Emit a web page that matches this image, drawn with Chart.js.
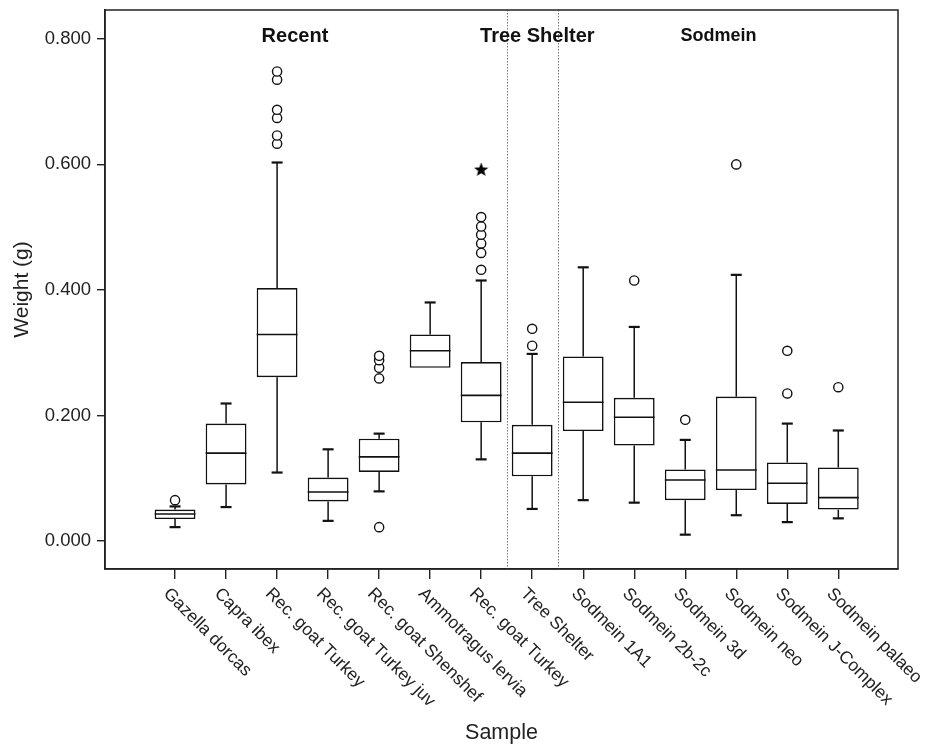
<!DOCTYPE html>
<html>
<head>
<meta charset="utf-8">
<script src="https://cdn.jsdelivr.net/npm/chart.js@4"></script>
<style>
  html, body { margin: 0; padding: 0; background: #fff; }
</style>
</head>
<body>
<canvas id="boxChart" width="925" height="746"></canvas>
<script>
const samples = ['Gazella dorcas', 'Capra ibex', 'Rec. goat Turkey', 'Rec. goat Turkey juv',
  'Rec. goat Shenshef', 'Ammotragus lervia', 'Rec. goat Turkey', 'Tree Shelter',
  'Sodmein 1A1', 'Sodmein 2b-2c', 'Sodmein 3d', 'Sodmein neo', 'Sodmein J-Complex', 'Sodmein palaeo'];

const lowerWhisker = [0.022, 0.054, 0.109, 0.032, 0.079, 0.276, 0.130, 0.051, 0.065, 0.061, 0.010, 0.041, 0.030, 0.036];
const q1           = [0.035, 0.090, 0.261, 0.063, 0.110, 0.276, 0.189, 0.103, 0.175, 0.152, 0.065, 0.081, 0.059, 0.050];
const median       = [0.043, 0.140, 0.329, 0.078, 0.134, 0.303, 0.232, 0.140, 0.221, 0.197, 0.097, 0.113, 0.092, 0.069];
const q3           = [0.050, 0.187, 0.403, 0.101, 0.163, 0.329, 0.285, 0.185, 0.294, 0.228, 0.114, 0.230, 0.125, 0.117];
const upperWhisker = [0.055, 0.219, 0.603, 0.146, 0.171, 0.380, 0.415, 0.298, 0.436, 0.341, 0.161, 0.424, 0.187, 0.176];

const outliers = [
  [0.065], [], [0.633, 0.646, 0.674, 0.687, 0.735, 0.748], [], [0.022, 0.259, 0.276, 0.288, 0.295], [],
  [0.432, 0.459, 0.474, 0.488, 0.501, 0.516], [0.311, 0.338], [], [0.415], [0.193], [0.600], [0.235, 0.303], [0.245]
];
const extremes = [[], [], [], [], [], [], [0.592], [], [], [], [], [], [], []];

const groups = ['Recent', 'Tree Shelter', 'Sodmein'];
const yTickValues = [0, 0.2, 0.4, 0.6, 0.8];

// layout bits (index units on the x scale)
const groupLabelX = [2.35, 7.1, 10.65];
const groupLabelSize = [20, 20, 18];
const separators = [6.5, 7.5];

const FONT = '"Liberation Sans", Arial, Helvetica, sans-serif';

function makeStar(size) {
  const c = document.createElement('canvas');
  c.width = size; c.height = size;
  const g = c.getContext('2d');
  const R = size / 2, r = R * 0.42;
  g.beginPath();
  for (let k = 0; k < 10; k++) {
    const rad = k % 2 ? r : R;
    const a = -Math.PI / 2 + k * Math.PI / 5;
    g.lineTo(R + rad * Math.cos(a), R + 0.5 + rad * Math.sin(a));
  }
  g.closePath();
  g.fillStyle = '#000';
  g.fill();
  return c;
}

function line(ctx, x0, y0, x1, y1) {
  ctx.beginPath();
  ctx.moveTo(x0, y0);
  ctx.lineTo(x1, y1);
  ctx.stroke();
}

const boxParts = {
  id: 'boxParts',
  beforeDatasetsDraw(chart) {
    const {ctx, chartArea, scales: {x}} = chart;
    ctx.save();
    ctx.strokeStyle = '#777';
    ctx.lineWidth = 1;
    ctx.setLineDash([1.5, 1.5]);
    separators.forEach(s => {
      const px = Math.round(x.getPixelForValue(s)) + 0.5;
      line(ctx, px, chartArea.top, px, chartArea.bottom);
    });
    ctx.restore();
  },
  afterDatasetsDraw(chart) {
    const {ctx, scales: {x, y}} = chart;
    const bars = chart.getDatasetMeta(0).data;
    ctx.save();
    ctx.strokeStyle = '#111';
    samples.forEach((s, i) => {
      const cx = x.getPixelForValue(i);
      const half = bars[i].width / 2;
      const my = y.getPixelForValue(median[i]);
      ctx.lineWidth = 1.6;
      line(ctx, cx - half, my, cx + half, my);
      [[q3[i], upperWhisker[i]], [q1[i], lowerWhisker[i]]].forEach(([from, to]) => {
        if (from === to) return;
        const y0 = y.getPixelForValue(from), y1 = y.getPixelForValue(to);
        ctx.lineWidth = 1.5;
        line(ctx, cx, y0, cx, y1);
        ctx.lineWidth = 2.2;
        line(ctx, cx - 5.5, y1, cx + 5.5, y1);
      });
    });
    ctx.restore();
  },
  afterDraw(chart) {
    const {ctx, chartArea, scales: {x}} = chart;
    ctx.save();
    // frame
    ctx.strokeStyle = '#222';
    ctx.lineWidth = 1.5;
    ctx.strokeRect(chartArea.left, chartArea.top, chartArea.right - chartArea.left, chartArea.bottom - chartArea.top);

    // rotated sample labels
    ctx.fillStyle = '#222';
    ctx.font = '17.5px ' + FONT;
    ctx.textAlign = 'left';
    ctx.textBaseline = 'middle';
    samples.forEach((s, i) => {
      ctx.save();
      ctx.translate(x.getPixelForValue(i) - 9, chartArea.bottom + 22);
      ctx.rotate(Math.PI / 4);
      ctx.fillText(s, 0, 0);
      ctx.restore();
    });

    // group headers
    ctx.fillStyle = '#111';
    ctx.textAlign = 'center';
    groups.forEach((g, k) => {
      ctx.font = 'bold ' + groupLabelSize[k] + 'px ' + FONT;
      ctx.fillText(g, x.getPixelForValue(groupLabelX[k]), chartArea.top + 26);
    });
    ctx.restore();
  }
};

const outlierPoints = [];
outliers.forEach((vals, i) => vals.forEach(v => outlierPoints.push({x: i, y: v})));
const extremePoints = [];
extremes.forEach((vals, i) => vals.forEach(v => extremePoints.push({x: i, y: v})));

new Chart(document.getElementById('boxChart').getContext('2d'), {
  type: 'bar',
  data: {
    datasets: [
      {
        label: 'IQR',
        data: samples.map((s, i) => ({x: i, y: [q1[i], q3[i]]})),
        backgroundColor: '#fff',
        borderColor: '#111',
        borderWidth: 1.6,
        borderSkipped: false,
        categoryPercentage: 0.8,
        barPercentage: 1
      },
      {
        type: 'scatter',
        label: 'Outliers',
        data: outlierPoints,
        pointStyle: 'circle',
        pointRadius: 4.6,
        pointBorderWidth: 1.4,
        pointBorderColor: '#111',
        pointBackgroundColor: '#fff'
      },
      {
        type: 'scatter',
        label: 'Extremes',
        data: extremePoints,
        pointStyle: makeStar(15)
      }
    ]
  },
  options: {
    responsive: false,
    animation: false,
    layout: { padding: { top: 10, right: 27, left: 0, bottom: 0 } },
    plugins: {
      legend: { display: false },
      tooltip: { enabled: false }
    },
    scales: {
      x: {
        type: 'linear',
        min: -1.373,
        max: 14.17,
        offset: false,
        afterBuildTicks: scale => { scale.ticks = samples.map((s, i) => ({value: i})); },
        afterFit: scale => { scale.height = 177; },
        ticks: { display: false },
        grid: { display: true, offset: false, drawOnChartArea: false, drawTicks: true, tickLength: 10, color: '#222', lineWidth: 1.4 },
        border: { display: true, color: '#222', width: 1.5 },
        title: {
          display: true,
          text: 'Sample',
          color: '#222',
          font: { family: FONT, size: 21.5 },
          padding: { top: 0, bottom: 0 }
        }
      },
      y: {
        min: -0.0447,
        max: 0.846,
        afterBuildTicks: scale => { scale.ticks = yTickValues.map(v => ({value: v})); },
        afterFit: scale => {
          scale.width = 105;
          scale.paddingTop = 0;
          scale.paddingBottom = 0;
        },
        ticks: {
          color: '#222',
          padding: 6,
          font: { family: FONT, size: 18.5 },
          callback: v => v.toFixed(3)
        },
        grid: { display: true, drawOnChartArea: false, drawTicks: true, tickLength: 8, color: '#222', lineWidth: 1.4 },
        border: { display: true, color: '#222', width: 1.5 },
        title: {
          display: true,
          text: 'Weight (g)',
          color: '#222',
          font: { family: FONT, size: 21 },
          padding: { top: 10, bottom: 0 }
        }
      }
    }
  },
  plugins: [boxParts]
});
</script>
</body>
</html>
